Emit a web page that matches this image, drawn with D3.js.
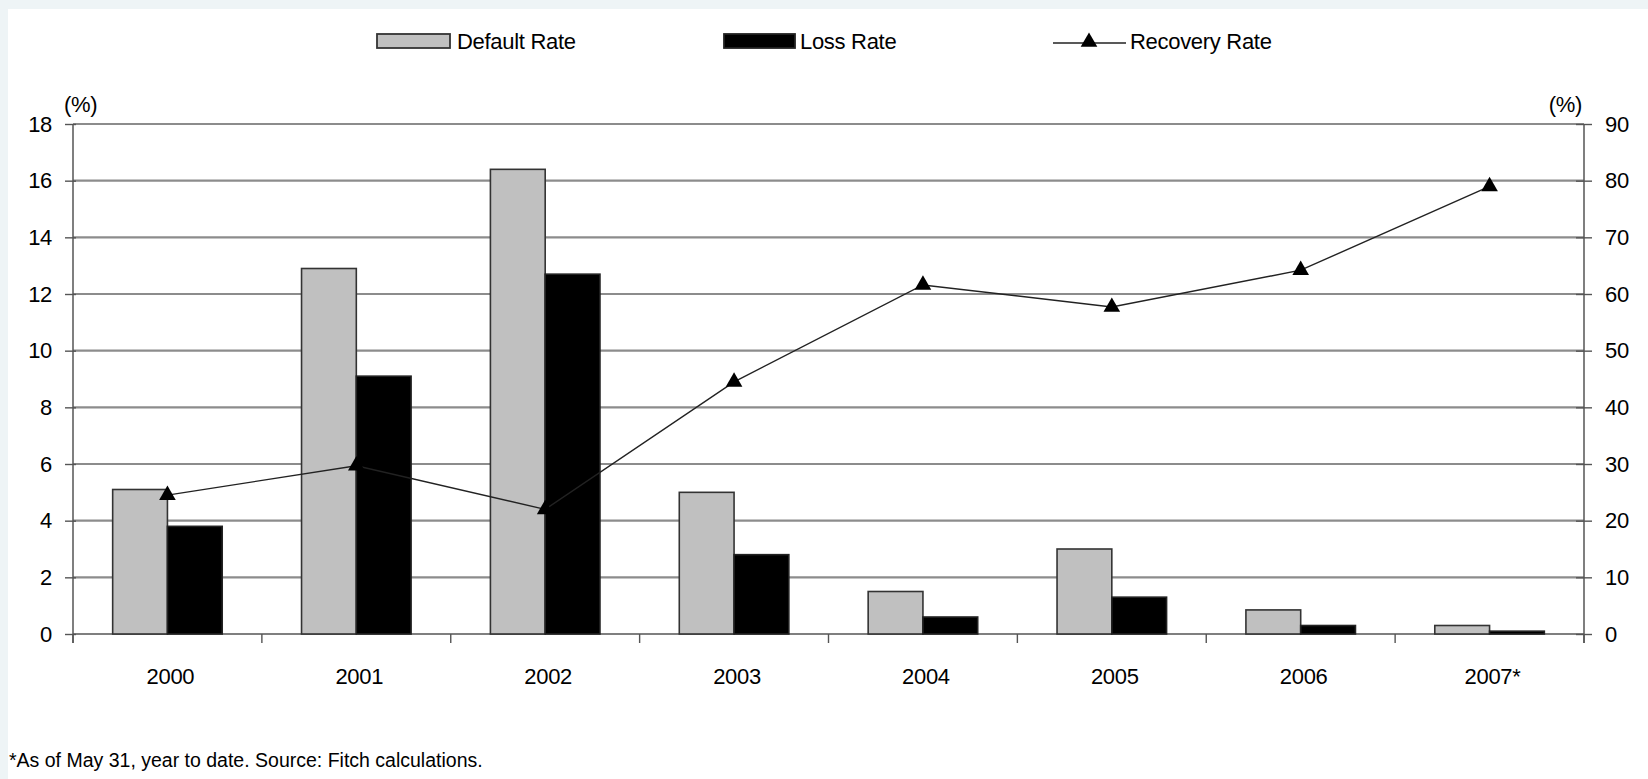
<!DOCTYPE html>
<html>
<head>
<meta charset="utf-8">
<script src="https://cdn.jsdelivr.net/npm/d3@7"></script>
<style>
  body { margin: 0; background: #eef4f6; }
  svg { display: block; }
  .lbl { font-family: "Liberation Sans", Arial, sans-serif; fill: #000; letter-spacing: -0.3px; }
  .foot { font-family: "Liberation Sans", Arial, sans-serif; fill: #000; }
</style>
</head>
<body>
<div id="chart"></div>
<script>
// data
const years = ["2000", "2001", "2002", "2003", "2004", "2005", "2006", "2007*"];
const defaultRate = [5.1, 12.9, 16.4, 5.0, 1.5, 3.0, 0.85, 0.3];
const lossRate = [3.8, 9.1, 12.7, 2.8, 0.6, 1.3, 0.3, 0.1];
const recoveryRate = [24.5, 29.7, 22.0, 44.5, 61.6, 57.7, 64.2, 79.0];
const leftTicks = [0, 2, 4, 6, 8, 10, 12, 14, 16, 18];
const rightTicks = [0, 10, 20, 30, 40, 50, 60, 70, 80, 90];

const W = 1648, H = 779;
const plot = { x0: 73, x1: 1584, y0: 634, y1: 124 };
const fz = 22;

const svg = d3.select("#chart").append("svg").attr("width", W).attr("height", H);

// outer frame + white panel
svg.append("rect").attr("x", 0).attr("y", 0).attr("width", W).attr("height", H).attr("fill", "#eef4f6");
svg.append("rect").attr("x", 8).attr("y", 9).attr("width", W - 8).attr("height", H - 9).attr("fill", "#fff");

const x0 = d3.scaleBand().domain(years).range([plot.x0, plot.x1]).paddingInner(0.42).paddingOuter(0.21);
const x1 = d3.scaleBand().domain(["default", "loss"]).range([0, x0.bandwidth()]);
const yL = d3.scaleLinear().domain([0, 18]).range([plot.y0, plot.y1]);
const yR = d3.scaleLinear().domain([0, 90]).range([plot.y0, plot.y1]);

// gridlines
svg.append("g").selectAll("line").data(leftTicks.filter(d => d > 0)).join("line")
  .attr("x1", plot.x0).attr("x2", plot.x1)
  .attr("y1", d => yL(d)).attr("y2", d => yL(d))
  .attr("stroke", "#8c8c8c").attr("stroke-width", 2.2);

// left axis
const gL = svg.append("g").attr("transform", `translate(${plot.x0},0)`)
  .call(d3.axisLeft(yL).tickValues(leftTicks).tickSize(8).tickPadding(13));
gL.select(".domain").remove();
gL.selectAll(".tick line").attr("x1", 3).attr("stroke", "#555").attr("stroke-width", 1.4);
gL.selectAll(".tick text").attr("class", "lbl").style("font-size", fz + "px");
svg.append("line").attr("x1", plot.x0).attr("x2", plot.x0).attr("y1", plot.y1).attr("y2", plot.y0 + 9)
  .attr("stroke", "#555").attr("stroke-width", 1.5);

// right axis
const gR = svg.append("g").attr("transform", `translate(${plot.x1},0)`)
  .call(d3.axisRight(yR).tickValues(rightTicks).tickSize(8).tickPadding(13));
gR.select(".domain").remove();
gR.selectAll(".tick line").attr("x1", -8).attr("stroke", "#555").attr("stroke-width", 1.4);
gR.selectAll(".tick text").attr("class", "lbl").style("font-size", fz + "px");
svg.append("line").attr("x1", plot.x1).attr("x2", plot.x1).attr("y1", plot.y1).attr("y2", plot.y0 + 9)
  .attr("stroke", "#555").attr("stroke-width", 1.5);

// bottom axis
svg.append("line").attr("x1", plot.x0).attr("x2", plot.x1).attr("y1", plot.y0).attr("y2", plot.y0)
  .attr("stroke", "#555").attr("stroke-width", 1.5);
const bounds = years.map(d => x0(d) - x0.step() * 0.21).concat([plot.x1]);
svg.append("g").selectAll("line").data(bounds).join("line")
  .attr("x1", d => d).attr("x2", d => d).attr("y1", plot.y0).attr("y2", plot.y0 + 9)
  .attr("stroke", "#555").attr("stroke-width", 1.4);
svg.append("g").selectAll("text").data(years).join("text")
  .attr("class", "lbl")
  .attr("x", d => x0(d) + x0.bandwidth() / 2 + 3)
  .attr("y", 684)
  .attr("text-anchor", "middle")
  .style("font-size", fz + "px")
  .text(d => d);

// unit labels
svg.append("text").attr("class", "lbl").attr("x", 64).attr("y", 112).style("font-size", fz + "px").text("(%)");
svg.append("text").attr("class", "lbl").attr("x", 1582).attr("y", 112).attr("text-anchor", "end").style("font-size", fz + "px").text("(%)");

// bars
const groups = svg.append("g").selectAll("g").data(years).join("g")
  .attr("transform", d => `translate(${x0(d)},0)`);
groups.append("rect")
  .attr("x", x1("default")).attr("width", x1.bandwidth())
  .attr("y", (d, i) => yL(defaultRate[i])).attr("height", (d, i) => yL(0) - yL(defaultRate[i]))
  .attr("fill", "#c0c0c0").attr("stroke", "#333").attr("stroke-width", 1.6);
groups.append("rect")
  .attr("x", x1("loss")).attr("width", x1.bandwidth())
  .attr("y", (d, i) => yL(lossRate[i])).attr("height", (d, i) => yL(0) - yL(lossRate[i]))
  .attr("fill", "#000").attr("stroke", "#222").attr("stroke-width", 1.6);

// recovery line
const cx = d => x0(d) + x0.bandwidth() / 2;
svg.append("path")
  .datum(years)
  .attr("fill", "none").attr("stroke", "#222").attr("stroke-width", 1.4)
  .attr("d", d3.line().x(d => cx(d)).y((d, i) => yR(recoveryRate[i])));
const tri = d3.symbol().type(d3.symbolTriangle).size(120);
svg.append("g").selectAll("path").data(years).join("path")
  .attr("transform", (d, i) => `translate(${cx(d)},${yR(recoveryRate[i])})`)
  .attr("d", tri).attr("fill", "#000");

// legend
const lg = svg.append("g");
lg.append("rect").attr("x", 377).attr("y", 34).attr("width", 73).attr("height", 14)
  .attr("fill", "#c0c0c0").attr("stroke", "#333").attr("stroke-width", 1.8);
lg.append("text").attr("class", "lbl").attr("x", 457).attr("y", 49).style("font-size", fz + "px").text("Default Rate");
lg.append("rect").attr("x", 724).attr("y", 34).attr("width", 71).attr("height", 14)
  .attr("fill", "#000").attr("stroke", "#222").attr("stroke-width", 1.8);
lg.append("text").attr("class", "lbl").attr("x", 800).attr("y", 49).style("font-size", fz + "px").text("Loss Rate");
lg.append("line").attr("x1", 1053).attr("x2", 1126).attr("y1", 43).attr("y2", 43)
  .attr("stroke", "#222").attr("stroke-width", 1.6);
lg.append("path").attr("transform", "translate(1089,42)").attr("d", tri).attr("fill", "#000");
lg.append("text").attr("class", "lbl").attr("x", 1130).attr("y", 49).style("font-size", fz + "px").text("Recovery Rate");

// footnote
svg.append("text").attr("class", "foot").attr("x", 9).attr("y", 767).style("font-size", "19.5px")
  .text("*As of May 31, year to date. Source: Fitch calculations.");
</script>
</body>
</html>
